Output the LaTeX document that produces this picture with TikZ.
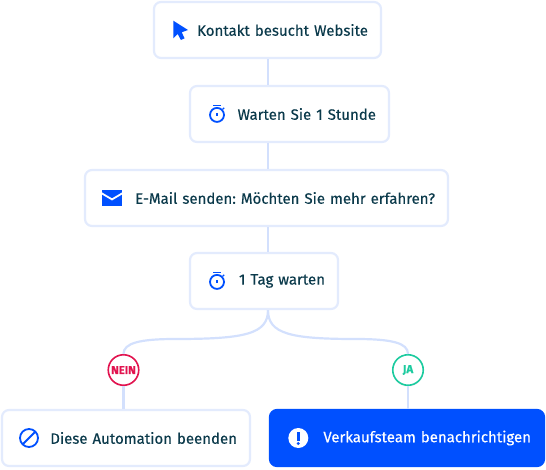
\documentclass[tikz,border=0pt]{standalone}
\usepackage{fontspec}
\setmainfont{Fira Sans}[FakeBold=0.3,WordSpace=0.8]
\usetikzlibrary{shadows}
\definecolor{flowInk}{HTML}{0B3A4B}
\definecolor{flowBlue}{HTML}{0050FF}
\definecolor{flowEdge}{HTML}{E3EBFD}
\definecolor{flowLine}{HTML}{D3E0FD}
\definecolor{flowRed}{HTML}{E2134F}
\definecolor{flowTeal}{HTML}{1CCB9F}
\frenchspacing
\tikzset{
  every picture/.style={font=\fontsize{15}{18}\selectfont, text=flowInk},
  flow box/.style={draw=flowEdge, line width=2.2pt, rounded corners=7pt, fill=white,
    minimum height=56pt, inner xsep=13pt, inner ysep=0pt, align=right, text width=#1},
  flow main/.style={draw=flowBlue, fill=flowBlue, text=white},
  flow link/.style={draw=flowLine, line width=2.2pt},
  flow badge/.style={circle, line width=1.6pt, fill=white, minimum size=30.5pt, inner sep=0pt,
    font=\fontsize{11.5}{12}\selectfont\bfseries, drop shadow={opacity=0.08,shadow xshift=0pt,shadow yshift=-1.5pt}},
  flow icon/.style={draw=flowBlue, line width=1.8pt},
  pics/stopwatch/.style={code={
    \draw[flow icon] (0,0) circle[radius=7];
    \draw[flow icon] (-3.8,-9.4) -- (3.8,-9.4);
    \draw[flow icon,line width=1.2pt] (5.6,-5.6) -- (7.2,-7.2);
    \draw[flow icon,line width=1.3pt] (0,-1.8) -- (0,1.4);
  }}
}
\begin{document}
\begin{tikzpicture}[x=1pt,y=-1pt]
  \useasboundingbox (0,0) rectangle (546,469);
  \coordinate (spine) at (268,0);
  \node[flow box=201] (kontakt) at (267.5,30) {Kontakt besucht Website};
  \node[flow box=173] (warten) at (289.5,114) {Warten Sie 1 Stunde};
  \node[flow box=337] (email) at (266.5,198) {E-Mail senden: Möchten Sie mehr erfahren?};
  \node[flow box=122] (tag) at (264,281) {1 Tag warten};
  \node[flow box=222] (stopp) at (126,438) {Diese Automation beenden};
  \node[flow box=248,flow main] (team) at (407,438) {Verkaufsteam benachrichtigen};
  \node[flow badge,draw=flowRed,text=flowRed] (nein) at (123.5,370) {NEIN};
  \node[flow badge,draw=flowTeal,text=flowTeal] (ja) at (408,370) {JA};
  % spine
  \draw[flow link] (spine |- kontakt.south) -- (spine |- warten.north);
  \draw[flow link] (spine |- warten.south) -- (spine |- email.north);
  \draw[flow link] (spine |- email.south) -- (spine |- tag.north);
  % fork
  \draw[flow link] (spine |- tag.south) .. controls (268,334) and (245,339) .. (175,339)
    .. controls (140,339) and (123.5,343) .. (nein.north);
  \draw[flow link] (spine |- tag.south) .. controls (268,334) and (291,339) .. (356,339)
    .. controls (392,339) and (408,343) .. (ja.north);
  \draw[flow link] (nein.south) -- (nein.south |- stopp.north);
  \draw[flow link] (ja.south) -- (ja.south |- team.north);
  % icons
  \fill[flowBlue] (173.3,20.7) -- (188,30) -- (181.7,32.3) -- (184.6,38.3) -- (180.9,40)
    -- (177.7,34) -- (173.3,38.3) -- cycle;
  \pic at (217,114.9) {stopwatch};
  \pic at (217,281.9) {stopwatch};
  \fill[flowBlue] (102,190) rectangle (122,205.7);
  \draw[white,line width=1.8pt] (101.5,193.2) -- (112,199.4) -- (122.5,193.2);
  \draw[flow icon] (29,438) circle[radius=9];
  \draw[flow icon] (35.4,431.6) -- (22.6,444.4);
  \fill[white] (298.3,438) circle[radius=10];
  \fill[flowBlue] (296.9,431.5) rectangle (299.7,440.5);
  \fill[flowBlue] (298.3,443.5) circle[radius=1.6];
\end{tikzpicture}
\end{document}
